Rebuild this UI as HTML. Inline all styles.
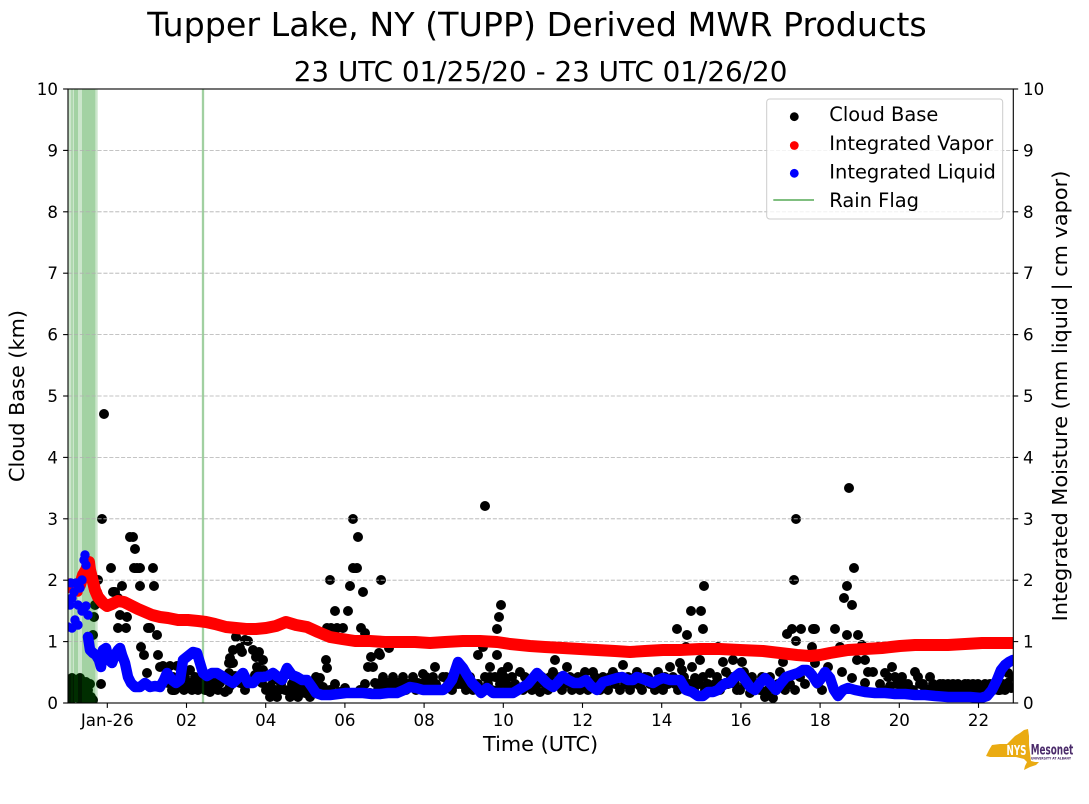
<!DOCTYPE html>
<html>
<head>
<meta charset="utf-8">
<style>
html,body{margin:0;padding:0;background:#fff;}
svg{display:block;}
text{font-family:"DejaVu Sans","Liberation Sans",sans-serif;fill:#000;}
</style>
</head>
<body>
<svg width="1089" height="804" viewBox="0 0 1089 804" xmlns="http://www.w3.org/2000/svg">
<rect x="0" y="0" width="1089" height="804" fill="#fff"/>
<defs>
<clipPath id="pa"><rect x="68" y="89" width="945.3" height="614"/></clipPath>
</defs>

<!-- Titles -->
<text x="537" y="36" font-size="33.3" text-anchor="middle">Tupper Lake, NY (TUPP) Derived MWR Products</text>
<text x="540.6" y="81" font-size="27.8" text-anchor="middle">23 UTC 01/25/20 - 23 UTC 01/26/20</text>

<g clip-path="url(#pa)">
<!-- Cloud base (black) -->
<path fill="none" stroke="#000" stroke-width="10" stroke-linecap="round" d="
M70 683h0M70 693h0M71 700h0M73 688h0M75 697h0M76 683h0M78 690h0M80 699h0M82 687h0M84 694h0M86 700h0M88 690h0M90 684h0M91 697h0M93 700h0M93 635h0M94 617h0M95 605h0M97 592h0M98 580h0M72 678h0M80 678h0M86 682h0
M101 684h0M104 414h0M102 519h0M111 568h0M113 592h0M115 592h0M118 598h0M113 603h0M120 615h0M127 617h0M122 586h0M118 628h0M126 628h0M130 537h0M133 537h0M135 549h0M134 568h0M137 568h0M140 568h0M153 568h0M140 586h0M154 586h0M148 628h0M150 628h0M157 635h0M141 647h0M144 655h0M158 655h0M147 673h0
M160 667h0M163 666h0M170 666h0M177 666h0M167 673h0M173 677h0M180 683h0M185 677h0M190 683h0M195 677h0M200 683h0M205 690h0M210 692h0M215 686h0M220 683h0M225 692h0M230 686h0M168 683h0M176 688h0M184 690h0M192 690h0M198 690h0M175 690h0M188 686h0M203 677h0M213 680h0M229 663h0M230 658h0M233 650h0M236 637h0M240 648h0M242 652h0M245 640h0M248 641h0M253 650h0M256 657h0M257 667h0M259 652h0M263 660h0M233 663h0M229 673h0M235 676h0M240 683h0M245 690h0M250 683h0M255 675h0M260 670h0M263 670h0M268 676h0M270 697h0M273 680h0M275 690h0M277 697h0M281 684h0M285 690h0M288 690h0M292 684h0M296 690h0M300 687h0M305 693h0M310 697h0M315 683h0M316 677h0M320 678h0M323 687h0M326 660h0M327 668h0M330 690h0M335 684h0M340 692h0M345 688h0M350 693h0
M165 680h0M172 690h0M182 672h0M190 670h0M197 685h0M207 683h0M218 690h0M222 680h0M228 690h0M262 683h0M266 690h0M271 686h0M279 690h0M283 676h0M290 697h0M294 680h0M298 697h0M303 683h0M308 690h0M313 690h0M318 690h0
M330 580h0M353 519h0M358 537h0M353 568h0M357 568h0M350 586h0M363 592h0M335 611h0M348 611h0M327 628h0M331 628h0M337 628h0M343 628h0M361 628h0M365 633h0M381 580h0M371 657h0M373 667h0M379 653h0M389 648h0M380 655h0M368 667h0M375 683h0
M360 690h0M365 684h0M370 693h0M378 690h0M383 677h0M388 683h0M393 677h0M398 683h0M403 677h0M408 684h0M413 677h0M418 683h0M423 674h0M428 683h0M433 677h0M435 667h0M438 690h0M443 677h0M448 684h0M452 690h0M456 677h0M461 684h0M466 690h0M470 677h0M475 684h0M478 655h0M480 690h0M483 647h0M485 677h0M488 684h0M490 667h0M492 690h0M495 677h0M497 655h0M497 629h0M499 617h0M501 605h0M485 506h0M500 684h0M504 677h0M508 667h0M510 690h0M515 684h0M520 672h0M523 690h0M527 680h0M530 686h0M535 677h0M540 692h0M545 684h0M550 677h0M555 660h0M558 684h0M562 690h0M567 667h0M570 677h0M575 684h0M580 690h0M585 672h0M590 684h0M595 677h0M600 690h0M605 684h0M610 677h0M615 684h0M620 690h0M623 665h0M628 677h0M633 684h0M637 672h0M640 686h0M645 677h0M650 684h0M655 690h0M660 683h0M665 677h0M670 667h0M675 684h0M680 663h0M682 670h0M686 647h0M687 635h0M677 629h0M691 611h0M701 611h0M704 586h0M703 629h0M692 667h0M695 678h0M697 683h0M700 660h0M705 690h0M710 673h0M715 684h0M718 647h0M720 690h0M723 662h0M728 684h0M733 660h0M737 690h0M742 662h0M745 684h0M750 693h0M755 684h0M760 690h0M765 697h0M770 677h0M773 698h0M776 690h0M780 672h0M783 662h0
M380 683h0M386 690h0M391 684h0M396 690h0M401 684h0M406 690h0M411 684h0M416 690h0M421 684h0M426 677h0M431 690h0M436 684h0M441 690h0M446 677h0M451 684h0M458 684h0M463 677h0M468 684h0M473 690h0M478 684h0M483 690h0M490 677h0M498 690h0M502 672h0M506 684h0M512 677h0M517 690h0M525 677h0M532 690h0M537 684h0
M542 677h0M548 690h0M553 672h0M560 677h0M565 684h0M572 690h0M578 677h0M583 684h0M588 690h0M593 672h0M598 684h0M603 677h0M608 690h0M613 672h0M618 677h0M625 684h0M630 690h0M635 677h0M642 690h0M648 677h0M653 684h0M658 672h0M663 690h0M668 684h0M673 677h0M678 690h0M684 677h0M689 684h0M694 690h0M699 684h0
M703 677h0M708 684h0M713 690h0M717 677h0M722 684h0M726 672h0M731 677h0M735 684h0M740 690h0M744 672h0M748 684h0M752 677h0M758 684h0M762 677h0M768 690h0M778 684h0M785 690h0M788 677h0
M787 634h0M792 629h0M796 641h0M801 629h0M813 629h0M812 647h0M796 519h0M794 580h0M790 684h0M795 690h0M800 677h0M805 684h0M810 672h0M815 663h0M818 684h0M822 690h0M828 667h0M835 629h0M815 629h0M840 647h0M842 672h0M847 635h0M844 598h0M847 586h0M852 605h0M854 568h0M849 488h0M852 678h0M857 660h0M858 635h0M862 645h0M865 660h0M868 672h0M873 672h0M865 683h0M878 647h0M880 684h0M885 673h0M890 686h0M892 667h0M895 677h0M900 690h0M905 684h0M910 690h0M915 672h0M920 684h0M925 690h0M930 677h0M935 690h0M940 684h0M945 690h0M950 690h0M955 690h0M960 690h0M965 684h0M970 690h0M975 690h0M978 684h0M982 690h0M988 690h0M993 690h0M998 690h0M1003 684h0M1008 683h0M1008 673h0M1011 677h0M1011 688h0
M883 690h0M888 677h0M897 684h0M902 677h0M908 684h0M913 690h0M918 677h0M923 684h0M928 690h0M933 684h0M938 690h0M943 684h0M948 684h0M953 684h0M958 684h0M963 690h0M968 684h0M973 684h0M980 690h0M985 684h0M990 684h0M996 684h0M1000 690h0M1005 690h0"/>

<!-- Rain flag spans -->
<rect x="68" y="89" width="29.7" height="614" fill="rgb(0,128,0)" fill-opacity="0.2"/>
<rect x="71.3" y="89" width="1.4" height="614" fill="rgb(0,128,0)" fill-opacity="0.2"/>
<rect x="74" y="89" width="4" height="614" fill="rgb(0,128,0)" fill-opacity="0.2"/>
<rect x="82" y="89" width="13.3" height="614" fill="rgb(0,128,0)" fill-opacity="0.2"/>
<rect x="201.7" y="89" width="2.6" height="614" fill="rgb(0,128,0)" fill-opacity="0.2"/>
<rect x="202.3" y="89" width="1.4" height="614" fill="rgb(0,128,0)" fill-opacity="0.3"/>
</g>

<!-- Grid -->
<g stroke="#b0b0b0" stroke-width="0.8" stroke-dasharray="4.1 1.8" fill="none">
<line x1="68" y1="641.6" x2="1013.3" y2="641.6"/>
<line x1="68" y1="580.2" x2="1013.3" y2="580.2"/>
<line x1="68" y1="518.8" x2="1013.3" y2="518.8"/>
<line x1="68" y1="457.4" x2="1013.3" y2="457.4"/>
<line x1="68" y1="396" x2="1013.3" y2="396"/>
<line x1="68" y1="334.6" x2="1013.3" y2="334.6"/>
<line x1="68" y1="273.2" x2="1013.3" y2="273.2"/>
<line x1="68" y1="211.8" x2="1013.3" y2="211.8"/>
<line x1="68" y1="150.4" x2="1013.3" y2="150.4"/>
</g>

<g clip-path="url(#pa)">
<!-- Integrated Vapor (red) -->
<polyline fill="none" stroke="#ff0000" stroke-width="12" stroke-linecap="round" stroke-linejoin="round" points="68,587 72,586 76,589 80,585 83,575 86,570 89,562 90,570 92,578 95,590 98,597 103,603 107,606 112,604 118,601 124,602 130,605 138,609 145,612 152,615 160,617 168,618 178,620 188,620 198,621 206,622 215,624 226,627 236,628 246,629 256,629 266,628 276,626 286,622 296,625 307,627 318,632 330,637 342,639 355,641 370,641 385,642 400,642 415,642 430,643 445,642 463,641 480,641 497,642 510,644 520,645 530,646 545,647 563,648 580,649 597,650 615,651 630,652 645,651 663,650 680,650 700,649 720,649 740,650 763,651 780,653 797,655 810,656 820,655 830,653 848,650 865,649 882,648 900,646 915,645 930,645 948,645 965,644 982,643 1000,643 1013,643"/>
<path fill="none" stroke="#ff0000" stroke-width="9.4" stroke-linecap="round" d="M70 583h0M74 590h0M78 592h0M82 580h0M86 563h0M88 568h0"/>

<!-- Integrated Liquid (blue) -->
<path fill="none" stroke="#0000ff" stroke-width="9.4" stroke-linecap="round" d="M68 627h0M70 605h0M71 583h0M72 598h0M74 592h0M76 583h0M78 605h0M80 588h0M82 580h0M84 560h0M85 555h0M86 565h0M78 625h0M75 620h0M72 628h0M88 615h0M82 611h0M86 606h0"/>
<polyline fill="none" stroke="#0000ff" stroke-width="10.5" stroke-linecap="round" stroke-linejoin="round" points="88,637 90,650 93,653 96,655 99,660 101,667 103,650 106,648 109,660 112,663 115,655 118,650 120,648 122,655 125,663 128,677 131,683 135,687 140,687 145,683 150,687 155,686 160,687 164,680 167,673 172,680 176,683 180,680 183,660 188,656 193,652 197,653 200,663 203,673 207,676 212,673 217,673 222,676 228,680 233,683 238,678 243,673 248,683 253,683 258,677 263,677 268,676 273,673 278,677 282,680 287,668 292,675 297,677 302,680 307,680 312,687 316,693 322,695 330,695 338,694 346,693 355,693 363,693 372,694 380,694 388,693 397,693 404,690 410,687 416,688 423,690 430,690 437,690 443,690 447,687 452,680 458,662 463,668 467,675 472,683 477,688 481,693 487,688 493,693 500,693 507,693 513,693 518,690 523,687 528,684 533,678 537,673 542,678 547,683 553,687 558,682 563,676 568,680 574,683 580,683 586,680 591,686 597,690 603,682 610,680 617,678 622,677 628,680 633,680 637,677 643,679 648,681 653,683 658,680 663,678 670,680 675,680 680,680 686,690 692,692 698,696 703,696 708,692 713,692 718,690 722,686 726,683 730,683 735,677 740,673 745,680 750,687 755,690 760,683 765,678 770,683 776,690 781,683 786,677 792,675 798,673 803,670 807,670 812,675 817,683 820,680 825,672 830,678 834,690 838,696 843,690 848,688 855,690 865,692 875,693 885,693 895,694 905,694 915,695 925,695 935,696 948,697 960,697 970,697 981,698 987,696 992,690 997,680 1001,670 1005,665 1009,662 1013,660"/>
</g>

<!-- Axes frame -->
<rect x="68" y="89" width="945.3" height="614" fill="none" stroke="#000" stroke-width="1.1"/>

<!-- Ticks -->
<g stroke="#000" stroke-width="1.1">
<line x1="63.1" y1="703" x2="68" y2="703"/><line x1="63.1" y1="641.6" x2="68" y2="641.6"/><line x1="63.1" y1="580.2" x2="68" y2="580.2"/><line x1="63.1" y1="518.8" x2="68" y2="518.8"/><line x1="63.1" y1="457.4" x2="68" y2="457.4"/><line x1="63.1" y1="396" x2="68" y2="396"/><line x1="63.1" y1="334.6" x2="68" y2="334.6"/><line x1="63.1" y1="273.2" x2="68" y2="273.2"/><line x1="63.1" y1="211.8" x2="68" y2="211.8"/><line x1="63.1" y1="150.4" x2="68" y2="150.4"/><line x1="63.1" y1="89" x2="68" y2="89"/>
<line x1="1013.3" y1="703" x2="1018.2" y2="703"/><line x1="1013.3" y1="641.6" x2="1018.2" y2="641.6"/><line x1="1013.3" y1="580.2" x2="1018.2" y2="580.2"/><line x1="1013.3" y1="518.8" x2="1018.2" y2="518.8"/><line x1="1013.3" y1="457.4" x2="1018.2" y2="457.4"/><line x1="1013.3" y1="396" x2="1018.2" y2="396"/><line x1="1013.3" y1="334.6" x2="1018.2" y2="334.6"/><line x1="1013.3" y1="273.2" x2="1018.2" y2="273.2"/><line x1="1013.3" y1="211.8" x2="1018.2" y2="211.8"/><line x1="1013.3" y1="150.4" x2="1018.2" y2="150.4"/><line x1="1013.3" y1="89" x2="1018.2" y2="89"/>
<line x1="107.3" y1="703" x2="107.3" y2="707.9"/><line x1="186.5" y1="703" x2="186.5" y2="707.9"/><line x1="265.7" y1="703" x2="265.7" y2="707.9"/><line x1="344.9" y1="703" x2="344.9" y2="707.9"/><line x1="424.1" y1="703" x2="424.1" y2="707.9"/><line x1="503.3" y1="703" x2="503.3" y2="707.9"/><line x1="582.5" y1="703" x2="582.5" y2="707.9"/><line x1="661.7" y1="703" x2="661.7" y2="707.9"/><line x1="740.9" y1="703" x2="740.9" y2="707.9"/><line x1="820.1" y1="703" x2="820.1" y2="707.9"/><line x1="899.3" y1="703" x2="899.3" y2="707.9"/><line x1="978.5" y1="703" x2="978.5" y2="707.9"/>
</g>

<!-- Left tick labels -->
<g font-size="16.67" text-anchor="end">
<text x="58" y="709">0</text><text x="58" y="647.6">1</text><text x="58" y="586.2">2</text><text x="58" y="524.8">3</text><text x="58" y="463.4">4</text><text x="58" y="402">5</text><text x="58" y="340.6">6</text><text x="58" y="279.2">7</text><text x="58" y="217.8">8</text><text x="58" y="156.4">9</text><text x="58" y="95">10</text>
</g>
<!-- Right tick labels -->
<g font-size="16.67" text-anchor="start">
<text x="1023" y="709">0</text><text x="1023" y="647.6">1</text><text x="1023" y="586.2">2</text><text x="1023" y="524.8">3</text><text x="1023" y="463.4">4</text><text x="1023" y="402">5</text><text x="1023" y="340.6">6</text><text x="1023" y="279.2">7</text><text x="1023" y="217.8">8</text><text x="1023" y="156.4">9</text><text x="1023" y="95">10</text>
</g>
<!-- X tick labels -->
<g font-size="16.67" text-anchor="middle">
<text x="107.3" y="726">Jan-26</text><text x="186.5" y="726">02</text><text x="265.7" y="726">04</text><text x="344.9" y="726">06</text><text x="424.1" y="726">08</text><text x="503.3" y="726">10</text><text x="582.5" y="726">12</text><text x="661.7" y="726">14</text><text x="740.9" y="726">16</text><text x="820.1" y="726">18</text><text x="899.3" y="726">20</text><text x="978.5" y="726">22</text>
</g>

<!-- Axis labels -->
<text x="540.6" y="751" font-size="20.83" text-anchor="middle">Time (UTC)</text>
<text transform="translate(24.2,396) rotate(-90)" font-size="20.83" text-anchor="middle">Cloud Base (km)</text>
<text transform="translate(1067,396) rotate(-90)" font-size="20.83" text-anchor="middle">Integrated Moisture (mm liquid | cm vapor)</text>

<!-- Legend -->
<rect x="766.7" y="99" width="236" height="120" rx="3" ry="3" fill="#fff" fill-opacity="0.8" stroke="#cccccc" stroke-width="1"/>
<circle cx="794.3" cy="116.7" r="4.4" fill="#000"/>
<circle cx="794.3" cy="145.5" r="4.4" fill="#ff0000"/>
<circle cx="794.3" cy="173.3" r="4.4" fill="#0000ff"/>
<line x1="773.3" y1="200" x2="814" y2="200" stroke="rgb(128,191,128)" stroke-width="2"/>
<g font-size="19.44">
<text x="829.3" y="121">Cloud Base</text>
<text x="829.3" y="149.8">Integrated Vapor</text>
<text x="829.3" y="178.4">Integrated Liquid</text>
<text x="829.3" y="207">Rain Flag</text>
</g>

<!-- NYS Mesonet logo -->
<polygon fill="#eaab12" points="986,756 989,750 992,745 1000,744 1007,744 1011,740 1015,736 1020,733 1024,730 1028,729 1029,736 1029,745 1030,753 1031,761 1035,762 1039,762 1036,765 1030,767 1024,770 1025,766 1027,762 1024,759 1016,757 1006,757 990,757"/>
<text x="1006.5" y="755" font-size="13.5" font-weight="bold" textLength="20" lengthAdjust="spacingAndGlyphs" style="fill:#ffffff">NYS</text>
<text x="1030.7" y="754.5" font-size="14" font-weight="bold" textLength="42.6" lengthAdjust="spacingAndGlyphs" style="fill:#4a2a6a">Mesonet</text>
<text x="1031" y="759.5" font-size="3.6" font-weight="bold" textLength="40" lengthAdjust="spacingAndGlyphs" style="fill:#4a2a6a">UNIVERSITY AT ALBANY</text>
</svg>
</body>
</html>
